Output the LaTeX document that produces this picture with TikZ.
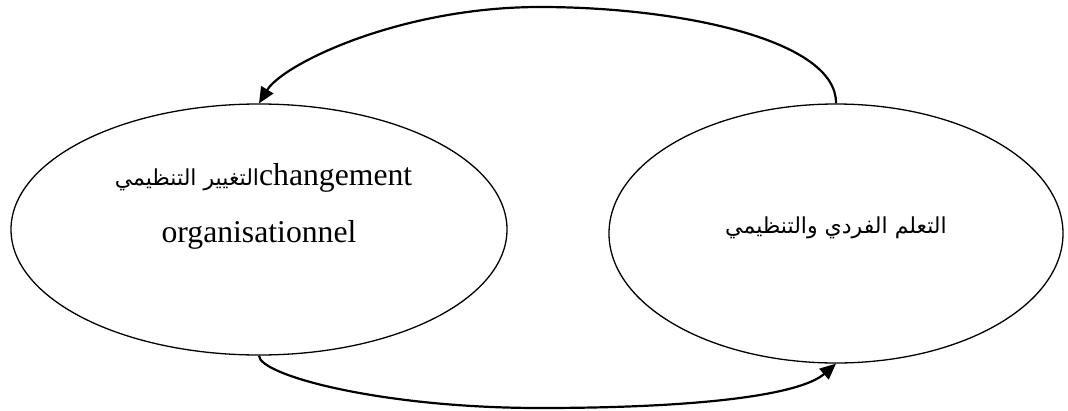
\documentclass[tikz,border=0pt]{standalone}
\usepackage{fontspec}
\setmainfont{Liberation Serif}
\newfontfamily\arabicfont[Script=Arabic]{DejaVu Sans}
\TeXXeTstate=1
\usetikzlibrary{shapes.geometric,arrows.meta}
\begin{document}
\begin{tikzpicture}[x=1pt,y=-1pt,
  bubble/.style={ellipse,draw,line width=1.3pt,inner sep=0pt},
  flow/.style={line width=2.2pt,-{Triangle[length=16pt,width=14pt]}},
  caption/.style={inner sep=0pt,anchor=base,font=\fontsize{31.7}{38}\selectfont},
  arabic/.style={font=\arabicfont\fontsize{22}{26}\selectfont}]
\useasboundingbox (0,0) rectangle (1068,410);
% the two cycle stages
\node[bubble,minimum width=496pt,minimum height=251pt] (L) at (259,229.5) {};
\node[bubble,minimum width=454pt,minimum height=259pt] (R) at (836,233.5) {};
% stage labels
\node[caption] (Ltop) at (263.5,185) {{\arabicfont\fontsize{22}{26}\selectfont\beginR التغيير التنظيمي\endR}changement};
\node[caption] (Lbot) at (259,242) {organisationnel};
\node[caption,arabic] (Rtxt) at (836,233) {\beginR التعلم الفردي والتنظيمي\endR};
% waypoints of the feedback loop
\coordinate (topPeak) at (540,7);
\coordinate (botLow) at (540,408);
\draw[flow] (R.north) .. controls (837,40) and (680,7) .. (topPeak)
  .. controls (400,7) and (283,64) .. (L.north);
\draw[flow] (L.south) .. controls (259,375) and (380,408) .. (botLow)
  .. controls (700,408) and (800,395) .. (R.south);
\end{tikzpicture}
\end{document}
